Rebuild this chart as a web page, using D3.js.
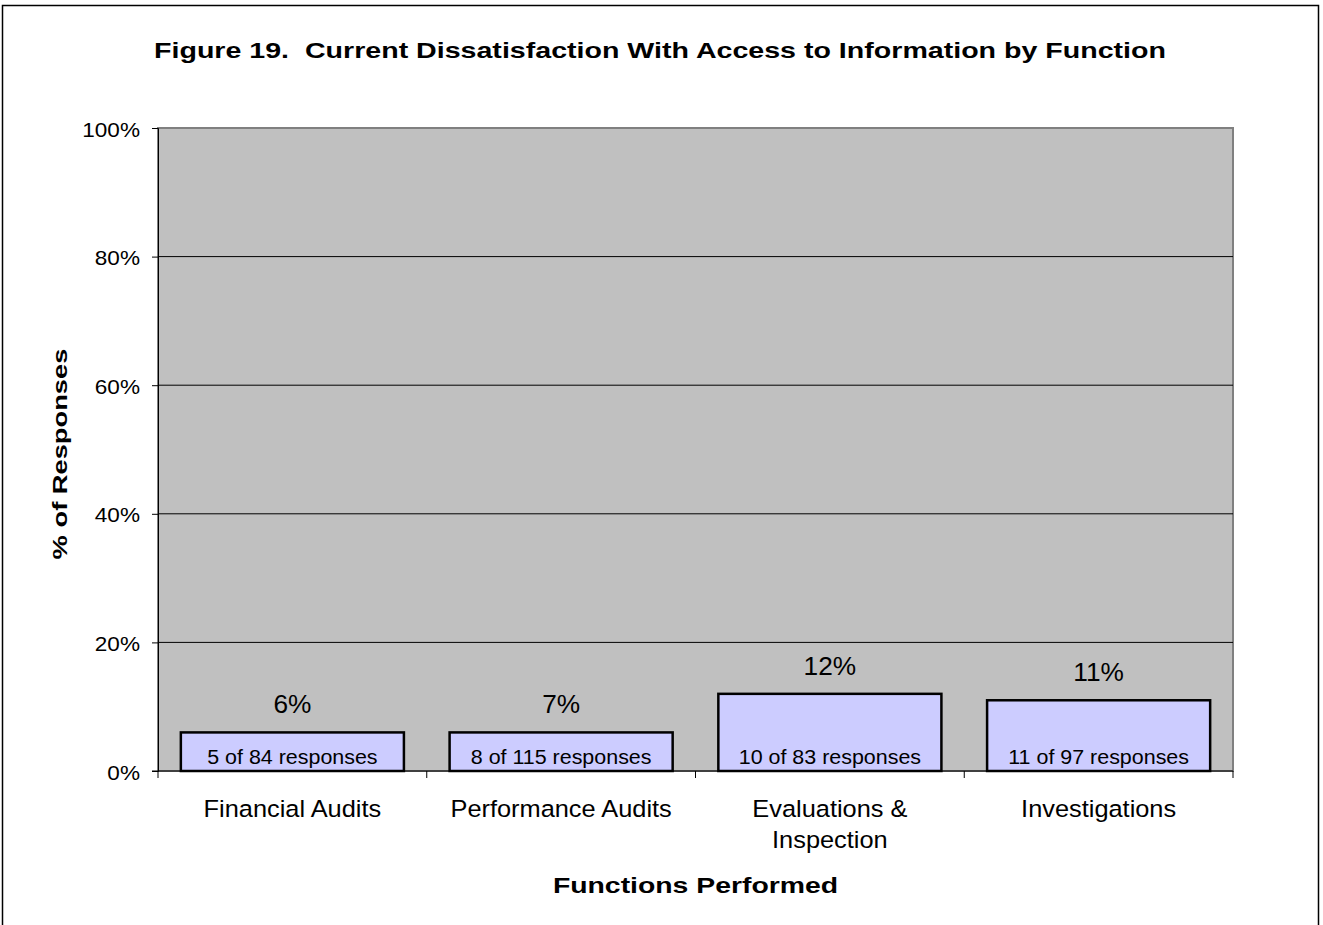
<!DOCTYPE html>
<html>
<head>
<meta charset="utf-8">
<script src="https://cdn.jsdelivr.net/npm/d3@7"></script>
<style>
body { margin: 0; background: #fff; }
text { font-family: Arial, "Liberation Sans", sans-serif; fill: #000; white-space: pre; }
</style>
</head>
<body>
<div class="graphic"></div>
<script>
var categories = [["Financial Audits"], ["Performance Audits"], ["Evaluations &", "Inspection"], ["Investigations"]];
var barValues = [6, 6, 12, 11];
var pctLabels = ["6%", "7%", "12%", "11%"];
var countLabels = ["5 of 84 responses", "8 of 115 responses", "10 of 83 responses", "11 of 97 responses"];
var yTicks = [0, 20, 40, 60, 80, 100];

var width = 1323;
var height = 925;
var svg = d3.select("div.graphic").append("svg")
	.attr("width", width)
	.attr("height", height);

// the original text is drawn a bit wide, so stretch it horizontally
function placeText(g, x, y, sx, rot){
	var t = "translate(" + x + "," + y + ")";
	if (rot) t += " rotate(" + rot + ")";
	return g.append("text").attr("transform", t + " scale(" + sx + ",1)");
}

// outer frame
svg.append("path")
	.attr("d", "M2.5,925 V5.5 H1318.5 V925")
	.attr("fill", "none")
	.attr("stroke", "#000")
	.attr("stroke-width", 1.5);

var plotLeft = 158, plotRight = 1233, plotTop = 128, plotBottom = 771;

var xOuter = d3.scaleBand().domain(d3.range(categories.length)).range([plotLeft, plotRight]);
var x = d3.scaleBand()
	.domain(d3.range(categories.length))
	.range([plotLeft, plotRight])
	.paddingInner(0.17)
	.paddingOuter(0.085);
var y = d3.scaleLinear().domain([0, 100]).range([plotBottom, plotTop]);

// plot area
svg.append("rect")
	.attr("x", plotLeft).attr("y", plotTop)
	.attr("width", plotRight - plotLeft).attr("height", plotBottom - plotTop)
	.attr("fill", "#c0c0c0")
	.attr("stroke", "#808080")
	.attr("stroke-width", 2);

// gridlines
svg.append("g").selectAll("line")
	.data(yTicks.filter(function(t){ return t > 0 && t < 100; }))
	.enter().append("line")
	.attr("x1", plotLeft).attr("x2", plotRight)
	.attr("y1", function(d){ return y(d); })
	.attr("y2", function(d){ return y(d); })
	.attr("stroke", "#000").attr("stroke-width", 1);

// y axis
var yAxis = svg.append("g")
	.attr("transform", "translate(" + plotLeft + ",0)")
	.call(d3.axisLeft(y).tickValues(yTicks).tickSize(6)
		.tickFormat(function(d){ return d + "%"; }));
yAxis.select(".domain").attr("stroke", "#000");
yAxis.selectAll("line").attr("stroke", "#000");
yAxis.selectAll("text")
	.attr("x", 0).attr("y", 0).attr("dy", null)
	.attr("transform", "translate(-18,8) scale(1.13,1)")
	.attr("text-anchor", "end")
	.attr("font-family", "Arial, 'Liberation Sans', sans-serif")
	.style("font-size", "20px")
	.attr("fill", "#000");

// x axis
svg.append("line")
	.attr("x1", plotLeft - 6).attr("x2", plotRight)
	.attr("y1", plotBottom).attr("y2", plotBottom)
	.attr("stroke", "#000").attr("stroke-width", 1);
svg.append("g").selectAll("line")
	.data(d3.range(categories.length + 1))
	.enter().append("line")
	.attr("x1", function(i){ return i < categories.length ? xOuter(i) : plotRight; })
	.attr("x2", function(i){ return i < categories.length ? xOuter(i) : plotRight; })
	.attr("y1", plotBottom).attr("y2", plotBottom + 7)
	.attr("stroke", "#000");

// bars
svg.append("g").selectAll("rect")
	.data(barValues)
	.enter().append("rect")
	.attr("x", function(d, i){ return x(i); })
	.attr("y", function(d){ return y(d); })
	.attr("width", x.bandwidth())
	.attr("height", function(d){ return plotBottom - y(d); })
	.attr("fill", "#ccccff")
	.attr("stroke", "#000")
	.attr("stroke-width", 2.5);

// value labels above bars and counts inside them
var labels = svg.append("g");
pctLabels.forEach(function(lbl, i){
	var cx = x(i) + x.bandwidth() / 2;
	placeText(labels, cx, y(barValues[i]) - 19, 1.05)
		.attr("text-anchor", "middle")
		.style("font-size", "25px")
		.text(lbl);
	placeText(labels, cx, plotBottom - 7, 1.1)
		.attr("text-anchor", "middle")
		.style("font-size", "19.5px")
		.text(countLabels[i]);
});

// category labels
categories.forEach(function(lines, i){
	var t = placeText(svg, xOuter(i) + xOuter.bandwidth() / 2, 817, 1.08)
		.attr("text-anchor", "middle")
		.style("font-size", "23.5px");
	t.selectAll("tspan")
		.data(lines)
		.enter().append("tspan")
		.attr("x", 0)
		.attr("dy", function(d, j){ return j === 0 ? 0 : 31; })
		.text(function(d){ return d; });
});

// titles
placeText(svg, 660, 58, 1.3)
	.attr("text-anchor", "middle")
	.style("font-size", "22px").style("font-weight", "bold")
	.text("Figure 19.  Current Dissatisfaction With Access to Information by Function");

placeText(svg, (plotLeft + plotRight) / 2, 893, 1.29)
	.attr("text-anchor", "middle")
	.style("font-size", "22px").style("font-weight", "bold")
	.text("Functions Performed");

placeText(svg, 67, 454, 1.3, -90)
	.attr("text-anchor", "middle")
	.style("font-size", "21px").style("font-weight", "bold")
	.text("% of Responses");
</script>
</body>
</html>
